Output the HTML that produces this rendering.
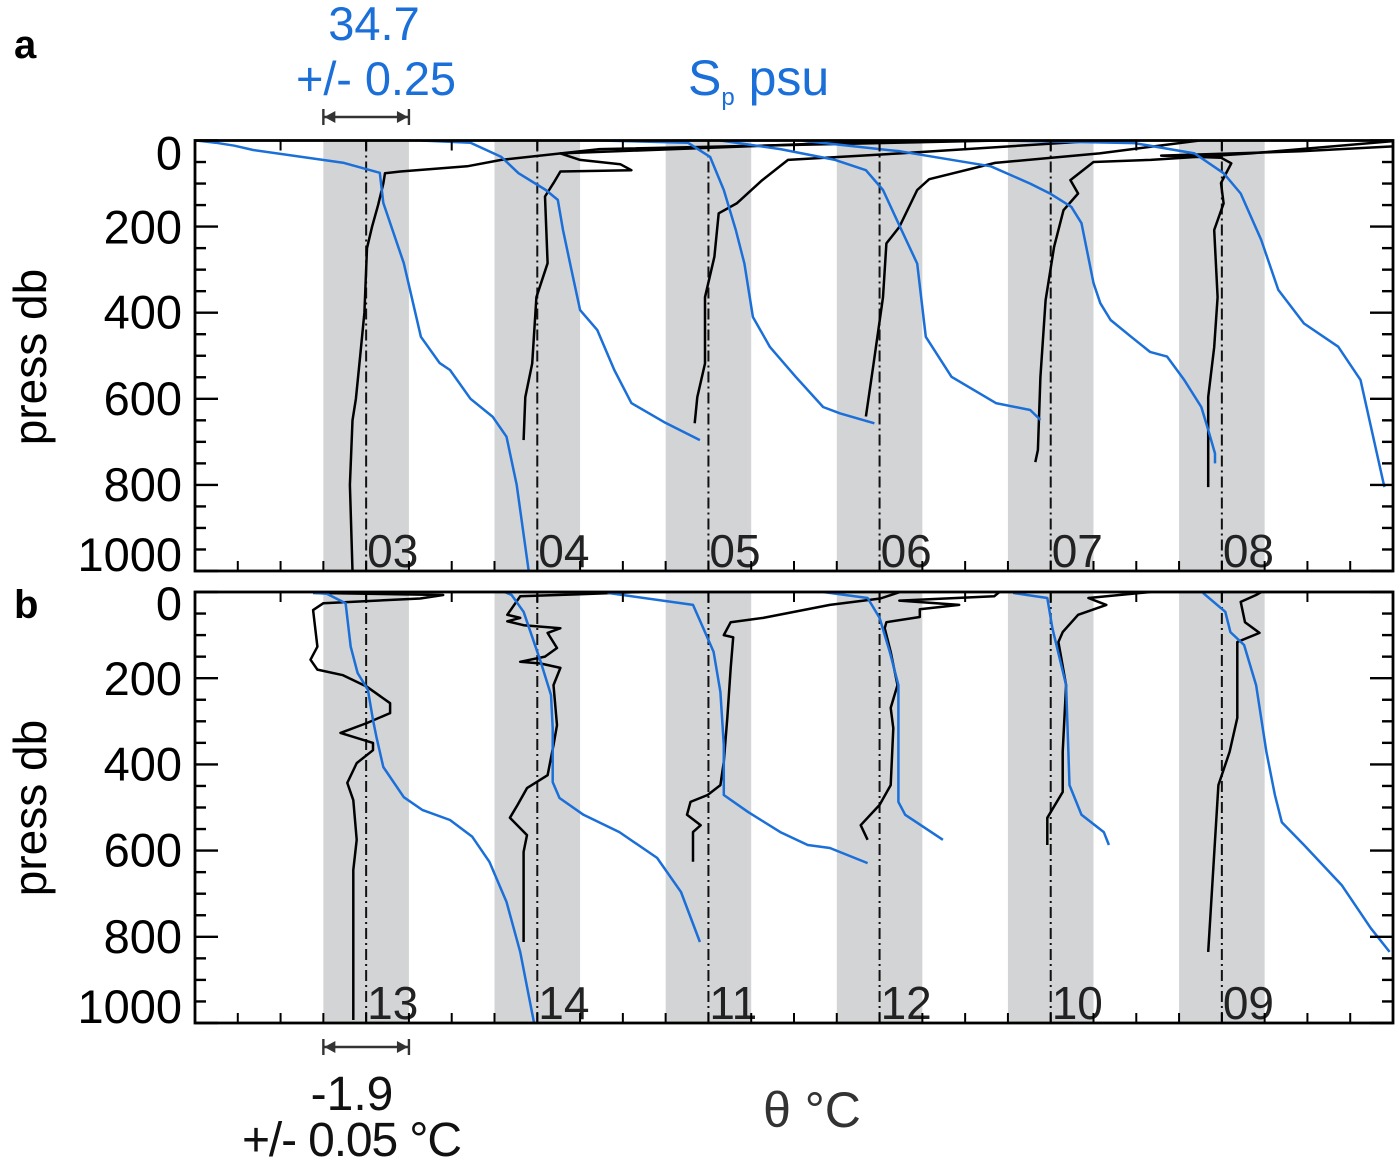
<!DOCTYPE html>
<html><head><meta charset="utf-8"><style>
body{margin:0;background:#fff;}
svg text{font-family:"Liberation Sans",Arial,sans-serif;}
</style></head><body>
<svg id="chart" width="1400" height="1161" viewBox="0 0 1400 1161" xmlns="http://www.w3.org/2000/svg">
<g id="static">
<text x="14" y="58" font-size="40" font-weight="bold">a</text>
<text x="14" y="618" font-size="40" font-weight="bold">b</text>
<text x="374" y="40" font-size="47" fill="#1a6fd8" text-anchor="middle">34.7</text>
<text x="376" y="95" font-size="47" fill="#1a6fd8" text-anchor="middle" textLength="160">+/- 0.25</text>
<text x="688" y="95" font-size="50" fill="#1a6fd8">S<tspan font-size="24" dy="10">p</tspan><tspan dy="-10"> psu</tspan></text>
<text x="352" y="1110" font-size="48" fill="#111" text-anchor="middle">-1.9</text>
<text x="352" y="1156" font-size="48" fill="#111" text-anchor="middle" textLength="220">+/- 0.05 °C</text>
<text x="812" y="1127" font-size="50" fill="#333" text-anchor="middle">θ °C</text>
<text transform="translate(46,357) rotate(-90)" font-size="46" text-anchor="middle">press db</text>
<text transform="translate(46,808) rotate(-90)" font-size="46" text-anchor="middle">press db</text>
</g>
<g id="plots"></g>
</svg>
<script>
// reference values
const refTemp = -1.9;
const refSal = 34.7;
const tempBand = 0.05;
const salBand = 0.25;
const yTicks = [0, 200, 400, 600, 800, 1000];
const labelsA = ["03", "04", "05", "06", "07", "08"];
const labelsB = ["13", "14", "11", "12", "10", "09"];

// panel a profiles: [pressure db, value]
const sal03 = [[0,33.71],[5,33.82],[12,33.93],[22,34.04],[52,34.57],[75,34.78],[145,34.80],[285,34.92],[456,35.02],[517,35.13],[533,35.19],[600,35.31],[642,35.44],[688,35.52],[800,35.58],[1000,35.65]];
const temp03 = [[0,-1.159],[20,-1.627],[45,-1.742],[60,-1.782],[72,-1.860],[76,-1.878],[100,-1.880],[150,-1.886],[200,-1.893],[250,-1.899],[400,-1.902],[500,-1.907],[600,-1.912],[650,-1.916],[800,-1.919],[1000,-1.916]];
const sal04 = [[0,34.02],[5,34.31],[38,34.49],[76,34.59],[115,34.75],[138,34.82],[208,34.85],[301,34.90],[394,34.95],[440,35.05],[533,35.15],[610,35.25],[656,35.45],[696,35.65]];
const temp04 = [[0,-1.476],[30,-1.873],[45,-1.850],[55,-1.803],[69,-1.790],[72,-1.873],[99,-1.881],[130,-1.891],[285,-1.888],[364,-1.901],[518,-1.906],[596,-1.914],[696,-1.916]];
const sal05 = [[0,34.07],[5,34.58],[38,34.71],[115,34.79],[208,34.86],[286,34.91],[410,34.96],[480,35.06],[549,35.21],[619,35.37],[634,35.47],[657,35.67]];
const temp05 = [[0,-1.442],[30,-1.676],[45,-1.807],[92,-1.837],[146,-1.867],[169,-1.888],[270,-1.893],[364,-1.904],[518,-1.904],[596,-1.913],[657,-1.916]];
const sal06 = [[0,33.77],[20,34.12],[45,34.44],[69,34.62],[115,34.72],[201,34.82],[286,34.92],[456,34.97],[549,35.12],[610,35.38],[626,35.58],[649,35.64]];
const temp06 = [[0,-1.526],[30,-1.643],[52,-1.765],[90,-1.842],[115,-1.856],[201,-1.877],[239,-1.892],[364,-1.896],[518,-1.907],[641,-1.916]];
const sal07 = [[0,33.24],[25,33.82],[60,34.35],[100,34.58],[124,34.70],[154,34.82],[192,34.88],[331,34.95],[378,34.99],[417,35.05],[456,35.17],[491,35.28],[502,35.38],[556,35.48],[619,35.58],[672,35.62],[727,35.66],[750,35.66]];
const temp07 = [[0,-1.491],[30,-1.666],[45,-1.783],[50,-1.850],[92,-1.877],[123,-1.868],[162,-1.885],[247,-1.896],[371,-1.906],[550,-1.912],[719,-1.915],[747,-1.918]];
const sal08 = [[0,33.41],[6,34.19],[30,34.54],[76,34.71],[123,34.81],[231,34.93],[347,35.03],[425,35.18],[479,35.38],[556,35.51],[805,35.65]];
const temp08 = [[0,-1.574],[25,-1.808],[35,-1.971],[40,-1.901],[53,-1.889],[99,-1.901],[146,-1.898],[208,-1.909],[364,-1.905],[480,-1.909],[596,-1.916],[805,-1.916]];

// panel b profiles
const sal13 = [[2,34.39],[4,34.47],[26,34.58],[127,34.61],[188,34.65],[227,34.71],[297,34.74],[336,34.76],[406,34.80],[476,34.92],[506,35.03],[529,35.19],[568,35.32],[626,35.42],[719,35.52],[835,35.60],[998,35.68]];
const temp13 = [[2,-1.962],[7,-1.810],[15,-1.837],[26,-1.950],[42,-1.962],[127,-1.957],[157,-1.965],[180,-1.957],[193,-1.927],[220,-1.899],[258,-1.872],[281,-1.872],[304,-1.899],[327,-1.930],[350,-1.892],[367,-1.892],[397,-1.911],[443,-1.922],[483,-1.915],[575,-1.911],[645,-1.915],[993,-1.915]];
const sal14 = [[0,34.51],[7,34.55],[46,34.62],[162,34.72],[239,34.78],[316,34.79],[441,34.79],[478,34.83],[517,34.97],[557,35.18],[617,35.40],[696,35.54],[812,35.65]];
const temp14 = [[0,-1.780],[5,-1.850],[10,-1.920],[53,-1.935],[60,-1.920],[68,-1.935],[77,-1.916],[84,-1.873],[95,-1.888],[130,-1.877],[150,-1.891],[162,-1.920],[166,-1.896],[176,-1.873],[216,-1.881],[309,-1.877],[355,-1.881],[425,-1.888],[455,-1.912],[494,-1.923],[524,-1.932],[564,-1.912],[603,-1.916],[812,-1.916]];
const sal11 = [[2,34.11],[30,34.61],[84,34.67],[139,34.73],[232,34.77],[355,34.79],[471,34.79],[510,34.93],[557,35.12],[587,35.28],[594,35.41],[629,35.63]];
const temp11 = [[0,-1.676],[15,-1.699],[30,-1.758],[60,-1.836],[70,-1.874],[100,-1.882],[105,-1.871],[176,-1.874],[292,-1.878],[394,-1.882],[448,-1.886],[471,-1.901],[487,-1.921],[517,-1.925],[541,-1.909],[557,-1.918],[626,-1.918]];
const sal12 = [[0,34.37],[14,34.63],[60,34.70],[139,34.76],[216,34.81],[487,34.81],[517,34.85],[575,35.07]];
const temp12 = [[0,-1.760],[10,-1.766],[20,-1.877],[30,-1.807],[40,-1.853],[58,-1.853],[70,-1.892],[84,-1.894],[139,-1.887],[216,-1.879],[269,-1.887],[316,-1.884],[448,-1.887],[494,-1.900],[541,-1.922],[575,-1.914]];
const sal10 = [[2,34.48],[14,34.68],[84,34.71],[216,34.79],[448,34.81],[517,34.88],[557,35.01],[587,35.04]];
const temp10 = [[0,-1.783],[14,-1.856],[30,-1.835],[53,-1.868],[93,-1.886],[116,-1.891],[216,-1.882],[371,-1.886],[464,-1.886],[524,-1.904],[587,-1.904]];
const sal09 = [[2,34.59],[46,34.72],[93,34.75],[123,34.83],[216,34.90],[371,34.96],[471,35.01],[534,35.05],[587,35.18],[680,35.40],[780,35.57],[835,35.68]];
const temp09 = [[0,-1.854],[7,-1.860],[23,-1.878],[70,-1.873],[95,-1.856],[116,-1.882],[292,-1.882],[371,-1.891],[448,-1.904],[835,-1.916]];

const salA = [sal03, sal04, sal05, sal06, sal07, sal08];
const tempA = [temp03, temp04, temp05, temp06, temp07, temp08];
const salB = [sal13, sal14, sal11, sal12, sal10, sal09];
const tempB = [temp13, temp14, temp11, temp12, temp10, temp09];

const NS = "http://www.w3.org/2000/svg";
const X0 = 195, X1 = 1393, unit = (X1 - X0) / 28;
function refX(i) { return X0 + unit * (4 + 4 * i); }
function xTemp(i, t) { return refX(i) + (t - refTemp) / tempBand * unit; }
function xSal(i, s) { return refX(i) + (s - refSal) / salBand * unit; }
function mk(tag, attrs, parent) { const e = document.createElementNS(NS, tag); for (const k in attrs) e.setAttribute(k, attrs[k]); parent.appendChild(e); return e; }

const root = document.getElementById('plots');
function panel(name, top, bottom, labels, sals, temps, yLabelOffsets) {
  const yS = p => top + (p / 1000) * (bottom - top);
  const g = mk('g', {}, root);
  
  
  const clipId = name + '-clip';
  const cp = mk('clipPath', {id: clipId}, g);
  mk('rect', {x: X0, y: top, width: X1 - X0, height: bottom - top}, cp);
  for (let i = 0; i < 6; i++) {
    const b = mk('rect', {x: refX(i) - unit, y: top, width: 2 * unit, height: bottom - top, fill: '#d3d4d6'}, g);
    
    
  }
  for (let i = 0; i < 6; i++) {
    const l = mk('line', {x1: refX(i), x2: refX(i), y1: top, y2: bottom, stroke: '#111', 'stroke-width': 2, 'stroke-dasharray': '11 4 2 4'}, g);
    
    
    const t = mk('text', {x: refX(i) + 1, y: bottom - 4, 'font-size': 46, fill: '#222'}, g);
    
    
    t.textContent = labels[i];
  }
  const cg = mk('g', {'clip-path': 'url(#' + clipId + ')'}, g);
  for (let i = 0; i < 6; i++) {
    const pt = temps[i].map(d => xTemp(i, d[1]).toFixed(1) + ',' + yS(d[0]).toFixed(1)).join(' ');
    const lt = mk('polyline', {points: pt, fill: 'none', stroke: '#000', 'stroke-width': 2.5, 'stroke-linejoin': 'round'}, cg);
    
    
  }
  for (let i = 0; i < 6; i++) {
    const ps = sals[i].map(d => xSal(i, d[1]).toFixed(1) + ',' + yS(d[0]).toFixed(1)).join(' ');
    const ls = mk('polyline', {points: ps, fill: 'none', stroke: '#1a6fd8', 'stroke-width': 2.5, 'stroke-linejoin': 'round'}, cg);
    
    
  }
  for (let p = 0; p <= 1000; p += 50) {
    const len = p % 200 === 0 ? 23 : 11;
    mk('line', {x1: X0, x2: X0 + len, y1: yS(p), y2: yS(p), stroke: '#000', 'stroke-width': 2.4}, g);
    mk('line', {x1: X1, x2: X1 - len, y1: yS(p), y2: yS(p), stroke: '#000', 'stroke-width': 2.4}, g);
  }
  for (let k = 1; k < 28; k++) {
    const x = X0 + k * unit;
    mk('line', {x1: x, x2: x, y1: bottom, y2: bottom - 10, stroke: '#000', 'stroke-width': 2}, g);
    if (k % 2 === 0) mk('line', {x1: x, x2: x, y1: top, y2: top + 10, stroke: '#000', 'stroke-width': 2}, g);
  }
  yTicks.forEach((v, j) => {
    const t = mk('text', {x: 182, y: yS(v) + 16 + yLabelOffsets[j], 'font-size': 47, 'text-anchor': 'end'}, g);
    
    
    t.textContent = v;
  });
  const f = mk('rect', {x: X0, y: top, width: X1 - X0, height: bottom - top, fill: 'none', stroke: '#000', 'stroke-width': 2.8}, g);
  
  
}
panel('panel-a', 140.5, 571, labelsA, salA, tempA, [13, 1, 0, 0, 0, -16]);
panel('panel-b', 592, 1023, labelsB, salB, tempB, [12, 1, 0, 0, 0, -16]);

function arrow(name, y) {
  const g = mk('g', {stroke: '#333', 'stroke-width': 2.4, fill: '#333'}, root);
  
  
  const a = refX(0) - unit, b = refX(0) + unit;
  mk('line', {x1: a, x2: b, y1: y, y2: y}, g);
  mk('line', {x1: a, x2: a, y1: y - 8, y2: y + 8}, g);
  mk('line', {x1: b, x2: b, y1: y - 8, y2: y + 8}, g);
  mk('polygon', {points: `${a+1},${y} ${a+12},${y-6} ${a+12},${y+6}`, stroke: 'none'}, g);
  mk('polygon', {points: `${b-1},${y} ${b-12},${y-6} ${b-12},${y+6}`, stroke: 'none'}, g);
}
arrow('salinity-scale-arrow', 117);
arrow('temperature-scale-arrow', 1047);
</script>
</body></html>
